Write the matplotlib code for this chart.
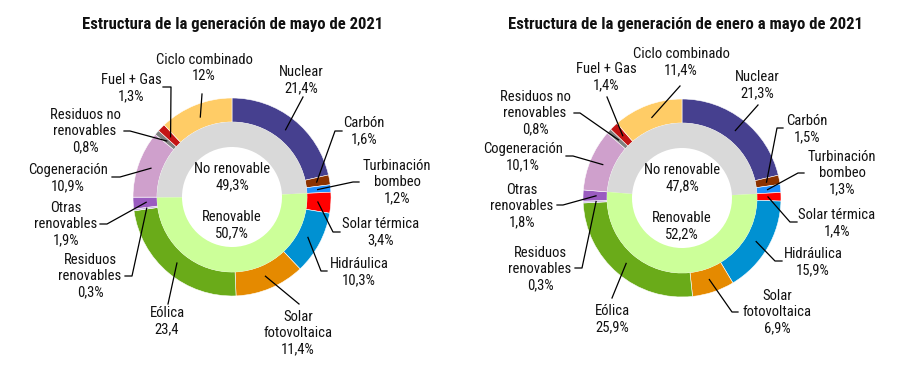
import numpy as np
import matplotlib
matplotlib.use("Agg")
import matplotlib.pyplot as plt
from matplotlib import font_manager

# data
categories = ["Nuclear", "Carbón", "Turbinación\nbombeo", "Solar térmica", "Hidráulica",
              "Solar\nfotovoltaica", "Eólica", "Residuos\nrenovables", "Otras\nrenovables",
              "Cogeneración", "Residuos no\nrenovables", "Fuel + Gas", "Ciclo combinado"]
mayo = [21.4, 1.6, 1.2, 3.4, 10.3, 11.4, 23.4, 0.3, 1.9, 10.9, 0.8, 1.3, 12.0]
mayo_txt = ["21,4%", "1,6%", "1,2%", "3,4%", "10,3%", "11,4%", "23,4", "0,3%", "1,9%",
            "10,9%", "0,8%", "1,3%", "12%"]
ene_may = [21.3, 1.5, 1.3, 1.4, 15.9, 6.9, 25.9, 0.3, 1.8, 10.1, 0.8, 1.4, 11.4]
ene_may_txt = ["21,3%", "1,5%", "1,3%", "1,4%", "15,9%", "6,9%", "25,9%", "0,3%", "1,8%",
               "10,1%", "0,8%", "1,4%", "11,4%"]
grupos = ["No renovable", "Renovable"]
grupos_mayo = [49.3, 50.7]
grupos_mayo_txt = ["49,3%", "50,7%"]
grupos_ene_may = [47.8, 52.2]
grupos_ene_may_txt = ["47,8%", "52,2%"]

colors = ["#46408f", "#8c3200", "#1e90ff", "#ff0000", "#0091d2", "#e58a00", "#6aab19",
          "#c8b4e0", "#9a5cc0", "#cfa0cc", "#7f7f7f", "#c41414", "#ffcc66"]
inner_colors = ["#d9d9d9", "#ccff99"]

# font
available = {f.name for f in font_manager.fontManager.ttflist}
font = "DejaVu Sans"
for fam in ["Liberation Sans Narrow", "Roboto Condensed", "Open Sans Condensed", "Roboto"]:
    if fam in available:
        font = fam
        break
plt.rcParams["font.family"] = [font, "DejaVu Sans"]

W, H = 900, 366
R, RING = 99, 24
R_IN, RING_IN = 75, 25
ANCHOR_R = 86
TXT = "#111111"
FS = 10.5
LS = 1.2

# label layout in reference pixels (x, y down): text centre, leader points
layout_1 = [
    ((301, 80), [(303, 97)]),
    ((364, 131), [(342, 131), (335, 131)]),
    ((397, 182), [(359, 182), (353, 182)]),
    ((381, 232), [(340, 232), (333, 232)]),
    ((359, 272), [(327, 271), (321, 271)]),
    ((298, 333), [(299, 304)]),
    ((167, 321), [(168, 304)]),
    ((90, 276), [(125, 276), (132, 276)]),
    ((66, 224), [(100, 224), (107, 224)]),
    ((68, 178), [(112, 177), (120, 177)]),
    ((85, 131), [(124, 131), (130, 131)]),
    ((131, 88), [(163, 87), (171, 87)]),
    ((204, 68), [(202, 94)]),
]
layout_2 = [
    ((757, 85), [(758, 105)]),
    ((807, 129), [(783, 128), (777, 128)]),
    ((842, 173), [(804, 173), (798, 173)]),
    ((837, 223), [(797, 222), (790, 222)]),
    ((813, 262), [(782, 261), (775, 261)]),
    ((777, 312), [(738, 312), (732, 312)]),
    ((612, 319), [(612, 298)]),
    ((540, 269), [(575, 268), (582, 268)]),
    ((522, 206), [(557, 205), (563, 205)]),
    ((523, 157), [(566, 156), (573, 156)]),
    ((535, 113), [(574, 113), (580, 113)]),
    ((606, 77), [(607, 97)]),
    ((681, 62), [(680, 86)]),
]

fig = plt.figure(figsize=(9, 3.66), dpi=100)
ax = fig.add_axes([0, 0, 1, 1])


def donut(cx, cy, values, texts, inner, inner_txt, layout, title, tx):
    c = (cx, H - cy)
    wedges, _ = ax.pie(values, colors=colors, radius=R, center=c, startangle=90,
                       counterclock=False,
                       wedgeprops=dict(width=RING, edgecolor="white", linewidth=0.4))
    # inner ring starts where the outer non-renewable block starts (Cogeneración)
    start = 90 - 3.6 * sum(values[:categories.index("Cogeneración")])
    ax.pie(inner, colors=inner_colors, radius=R_IN, center=c, startangle=start,
           counterclock=False, wedgeprops=dict(width=RING_IN, linewidth=0))
    for w, name, t, (pos, pts) in zip(wedges, categories, texts, layout):
        a = np.deg2rad((w.theta1 + w.theta2) / 2)
        anchor = (c[0] + ANCHOR_R * np.cos(a), c[1] + ANCHOR_R * np.sin(a))
        xs = [p[0] for p in pts] + [anchor[0]]
        ys = [H - p[1] for p in pts] + [anchor[1]]
        ax.plot(xs, ys, color="black", lw=0.9)
        ax.text(pos[0], H - pos[1], name + "\n" + t, ha="center", va="center",
                fontsize=FS, color=TXT, linespacing=LS)
    ax.text(cx, H - (cy - 20), grupos[0] + "\n" + inner_txt[0], ha="center", va="center",
            fontsize=FS, color=TXT, linespacing=LS)
    ax.text(cx, H - (cy + 28), grupos[1] + "\n" + inner_txt[1], ha="center", va="center",
            fontsize=FS, color=TXT, linespacing=LS)
    ax.text(tx, H - 24, title, ha="center", va="center", fontsize=12,
            fontweight="bold", color=TXT)


donut(232, 197, mayo, mayo_txt, grupos_mayo, grupos_mayo_txt, layout_1,
      "Estructura de la generación de mayo de 2021", 233)
donut(682, 198, ene_may, ene_may_txt, grupos_ene_may, grupos_ene_may_txt, layout_2,
      "Estructura de la generación de enero a mayo de 2021", 685)

ax.set_xlim(0, W)
ax.set_ylim(0, H)
ax.set_aspect("equal")
ax.axis("off")
fig.savefig("out.png", dpi=100)
